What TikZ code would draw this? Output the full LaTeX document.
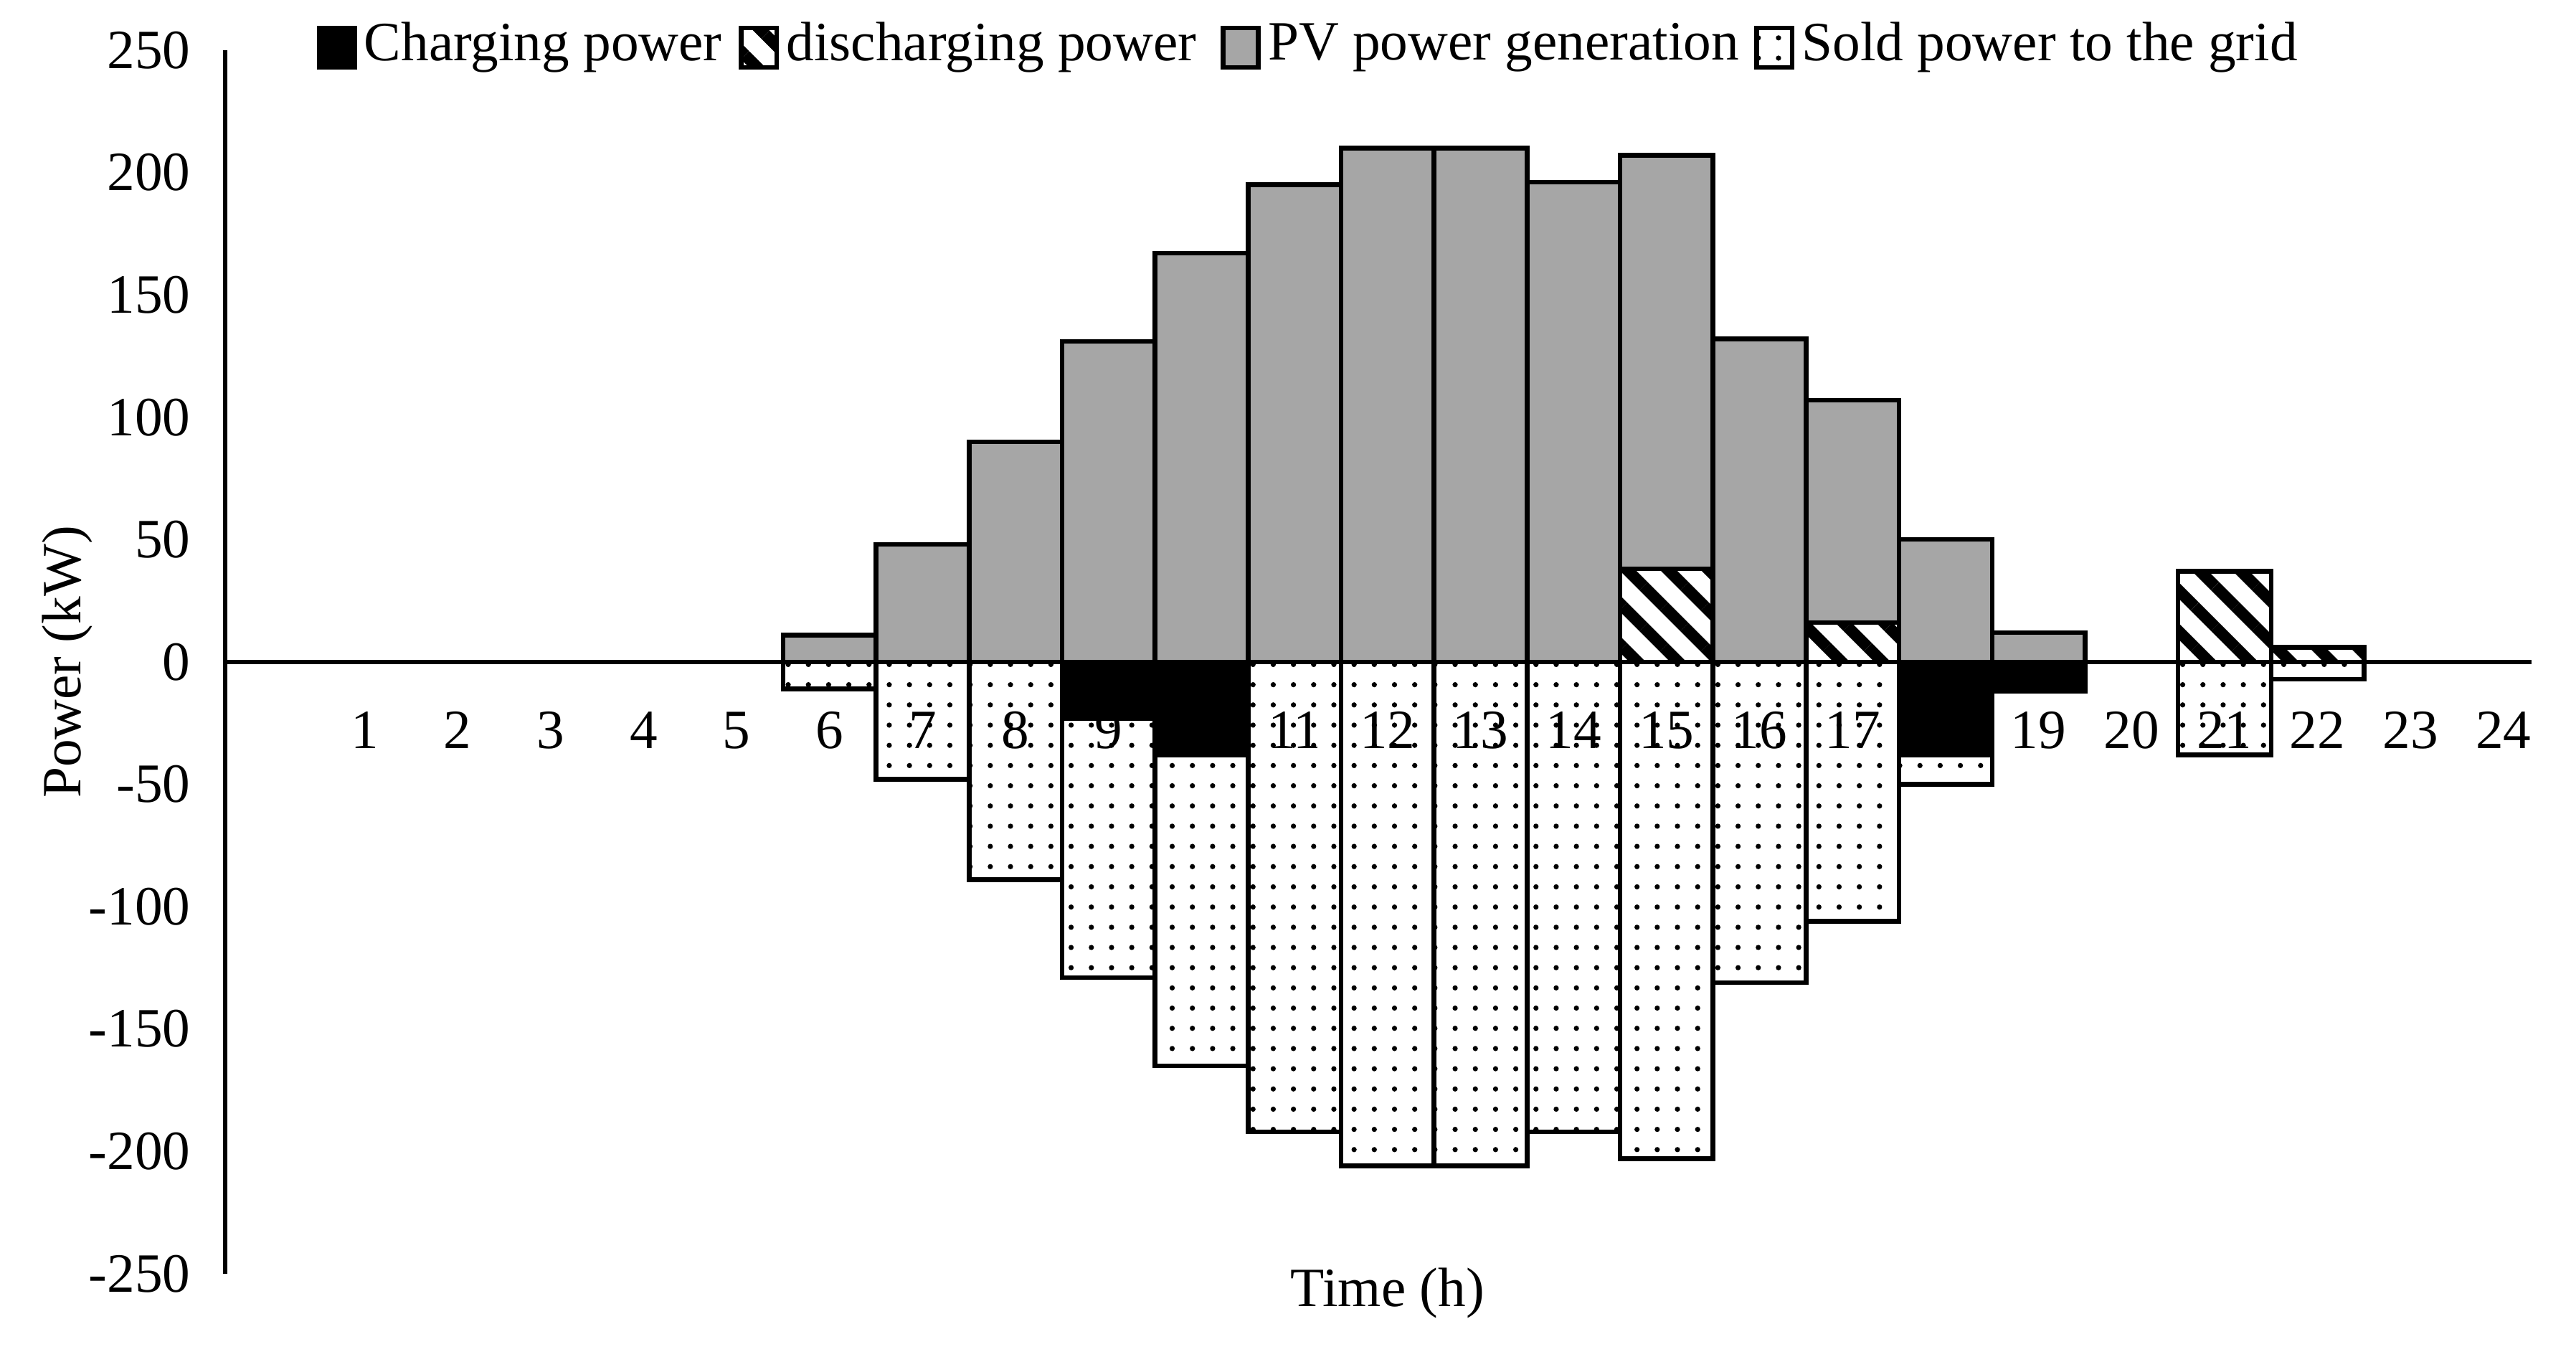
\documentclass[tikz,border=0pt]{standalone}
\usepackage{fontspec}
\setmainfont{Liberation Serif}
\usetikzlibrary{patterns.meta}

\definecolor{pvgray}{HTML}{A6A6A6}

\tikzset{
    bar/.style={draw=black,thick},
    pvbar/.style={bar,fill=pvgray},
    chbar/.style={bar,fill=black},
    disbar/.style={bar,fill=white,postaction={pattern={Lines[angle=-45,distance=5pt,line width=2pt]}}},
    soldbar/.style={bar,fill=white,postaction={pattern={Dots[radius=0.45pt,distance=3.5pt]}}},
    lbl/.style={font=\fontsize{9.6}{11.5}\selectfont,inner sep=1pt},
}

\begin{document}
\begin{tikzpicture}[x=0.566cm,y=0.0149cm]
    \useasboundingbox (-2.922,-281.9) rectangle (24.78,270.5);

    % PV power generation
    \foreach \x / \v in {6/11,7/48,8/90,9/131,10/167,11/195,12/210,13/210,14/196,15/207,16/132,17/107,18/50,19/12} {
        \draw[pvbar] (\x-0.5,0) rectangle (\x+0.5,\v);
    }

    % Discharging power
    \foreach \x / \v in {15/38,17/16,21/37,22/6} {
        \draw[disbar] (\x-0.5,0) rectangle (\x+0.5,\v);
    }

    % Charging power
    \foreach \x / \v in {9/-23,10/-38,18/-38,19/-12} {
        \draw[chbar] (\x-0.5,0) rectangle (\x+0.5,\v);
    }

    % Sold power to the grid
    \foreach \x / \a / \b in {6/0/-11,7/0/-48,8/0/-89,9/-23/-129,10/-38/-165,11/0/-192,12/0/-206,13/0/-206,14/0/-192,15/0/-203,16/0/-131,17/0/-106,18/-38/-50,21/0/-38,22/0/-7} {
        \draw[soldbar] (\x-0.5,\a) rectangle (\x+0.5,\b);
    }

    % Axes
    \coordinate (ytop) at (-0.5,250);
    \coordinate (ybot) at (-0.5,-250);
    \coordinate (xleft) at (-0.5,0);
    \coordinate (xright) at (24.3,0);
    \draw[thick] (ytop) -- (ybot);
    \draw[thick] (xleft) -- (xright);

    % Tick labels
    \foreach \y in {250,200,...,-250} {
        \node[lbl,anchor=east] (y\y) at (-0.8,\y) {\y};
    }
    \foreach \x in {1,...,24} {
        \node[lbl] (x\x) at (\x,-28) {\x};
    }

    % Axis titles
    \node[lbl,rotate=90] (ylab) at (-2.2,0) {Power (kW)};
    \node[lbl] (xlab) at (12,-258) {Time (h)};

    % Legend
    \foreach \x / \s / \t [count=\i] in {
        0.70/chbar/Charging power,
        5.24/disbar/discharging power,
        10.42/pvbar/PV power generation,
        16.16/soldbar/Sold power to the grid} {
        \draw[\s] (\x-0.19,243) rectangle (\x+0.19,259);
        \node[lbl,anchor=west] (leg\i) at (\x+0.22,251) {\t};
    }
\end{tikzpicture}
\end{document}
